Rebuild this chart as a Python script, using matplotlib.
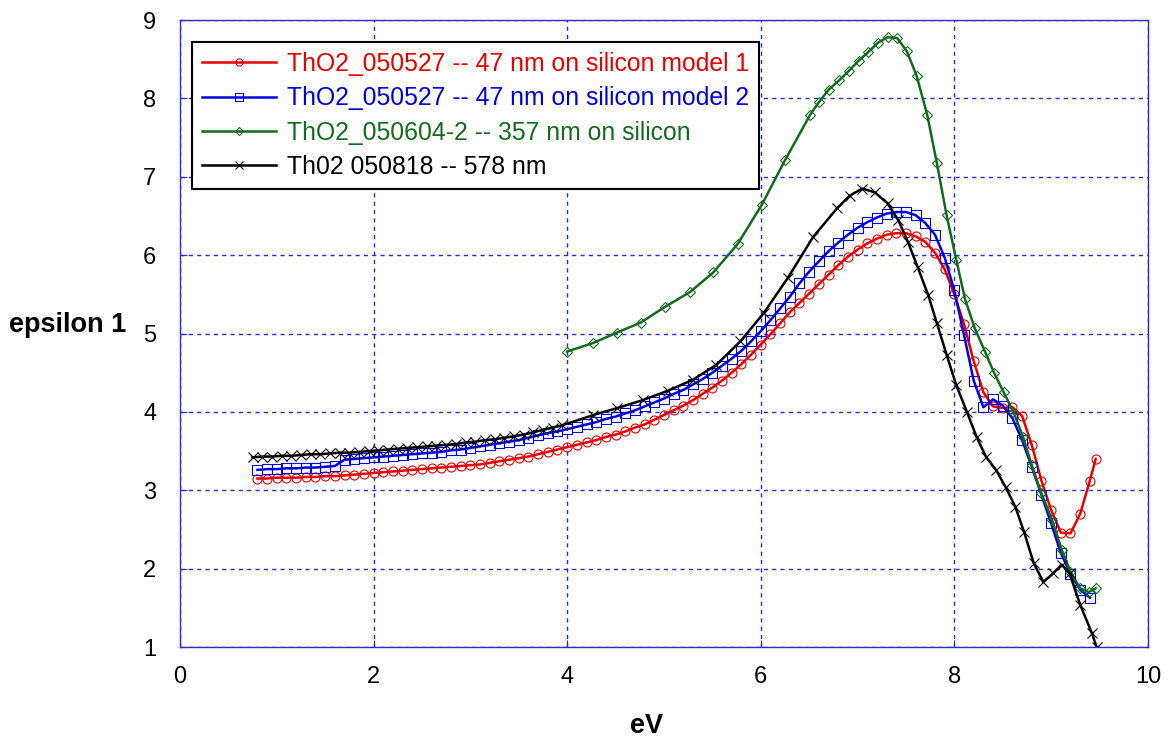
import numpy as np
import matplotlib
matplotlib.use("Agg")
import matplotlib.pyplot as plt

plt.rcParams['font.family'] = ['Liberation Sans', 'DejaVu Sans']

# --- data ---
red_x = [0.8, 0.9, 1.0, 1.1, 1.2, 1.3, 1.4, 1.5, 1.6, 1.7, 1.8, 1.9, 2.0, 2.1, 2.2,
         2.3, 2.4, 2.5, 2.6, 2.7, 2.8, 2.9, 3.0, 3.1, 3.2, 3.3, 3.4, 3.5, 3.6, 3.7,
         3.8, 3.9, 4.0, 4.1, 4.2, 4.3, 4.4, 4.5, 4.6, 4.7, 4.8, 4.9, 5.0, 5.1, 5.2,
         5.3, 5.4, 5.5, 5.6, 5.7, 5.8, 5.9, 6.0, 6.1, 6.2, 6.3, 6.4, 6.5, 6.6, 6.7,
         6.8, 6.9, 7.0, 7.1, 7.2, 7.3, 7.4, 7.5, 7.6, 7.7, 7.8, 7.9, 8.0, 8.1, 8.2,
         8.3, 8.4, 8.5, 8.6, 8.7, 8.8, 8.9, 9.0, 9.1, 9.2, 9.3, 9.4, 9.46]
red_y = [3.15, 3.15, 3.16, 3.16, 3.16, 3.17, 3.17, 3.18, 3.18, 3.19, 3.20, 3.21, 3.22, 3.23, 3.24,
         3.25, 3.26, 3.27, 3.28, 3.29, 3.30, 3.31, 3.32, 3.33, 3.35, 3.37, 3.39, 3.41, 3.43, 3.46,
         3.49, 3.52, 3.55, 3.58, 3.61, 3.64, 3.68, 3.71, 3.75, 3.80, 3.84, 3.90, 3.96, 4.02, 4.08,
         4.15, 4.23, 4.31, 4.40, 4.50, 4.61, 4.73, 4.86, 4.99, 5.13, 5.27, 5.39, 5.51, 5.63, 5.75,
         5.87, 5.98, 6.07, 6.15, 6.21, 6.26, 6.28, 6.28, 6.24, 6.17, 6.03, 5.82, 5.50, 5.12, 4.65,
         4.25, 4.07, 4.05, 4.06, 3.95, 3.58, 3.12, 2.75, 2.46, 2.45, 2.70, 3.12, 3.40]

blue_x = [0.8, 0.9, 1.0, 1.1, 1.2, 1.3, 1.4, 1.5, 1.6, 1.7, 1.8, 1.9, 2.0, 2.1, 2.2,
          2.3, 2.4, 2.5, 2.6, 2.7, 2.8, 2.9, 3.0, 3.1, 3.2, 3.3, 3.4, 3.5, 3.6, 3.7,
          3.8, 3.9, 4.0, 4.1, 4.2, 4.3, 4.4, 4.5, 4.6, 4.7, 4.8, 4.9, 5.0, 5.1, 5.2,
          5.3, 5.4, 5.5, 5.6, 5.7, 5.8, 5.9, 6.0, 6.1, 6.2, 6.3, 6.4, 6.5, 6.6, 6.7,
          6.8, 6.9, 7.0, 7.1, 7.2, 7.3, 7.4, 7.5, 7.6, 7.7, 7.8, 7.9, 8.0, 8.1, 8.2,
          8.3, 8.4, 8.5, 8.6, 8.7, 8.8, 8.9, 9.0, 9.1, 9.2, 9.3, 9.4]
blue_y = [3.26, 3.27, 3.27, 3.28, 3.28, 3.29, 3.29, 3.30, 3.31, 3.39, 3.40, 3.41, 3.42, 3.43, 3.44,
          3.45, 3.46, 3.47, 3.48, 3.49, 3.51, 3.52, 3.54, 3.56, 3.58, 3.60, 3.62, 3.64, 3.67, 3.70,
          3.73, 3.75, 3.78, 3.81, 3.84, 3.87, 3.91, 3.94, 3.98, 4.02, 4.07, 4.12, 4.17, 4.23, 4.28,
          4.35, 4.42, 4.50, 4.59, 4.68, 4.78, 4.90, 5.03, 5.17, 5.32, 5.47, 5.64, 5.79, 5.92, 6.05,
          6.16, 6.26, 6.35, 6.42, 6.48, 6.53, 6.55, 6.55, 6.51, 6.41, 6.26, 5.97, 5.55, 4.98, 4.40,
          4.06, 4.16, 4.08, 3.92, 3.64, 3.30, 2.94, 2.58, 2.20, 1.93, 1.73, 1.63]

green_x = [4.0, 4.27, 4.51, 4.76, 5.01, 5.27, 5.51, 5.76, 6.01, 6.25, 6.51, 6.60, 6.70, 6.81,
           6.91, 7.01, 7.11, 7.21, 7.31, 7.41, 7.51, 7.61, 7.72, 7.82, 7.92, 8.02, 8.11, 8.21,
           8.32, 8.41, 8.51, 8.61, 8.71, 8.80, 8.90, 9.01, 9.11, 9.20, 9.30, 9.39, 9.46]
green_y = [4.77, 4.88, 5.01, 5.14, 5.34, 5.53, 5.78, 6.14, 6.64, 7.21, 7.79, 7.95, 8.11, 8.23,
           8.35, 8.48, 8.59, 8.71, 8.78, 8.77, 8.60, 8.29, 7.79, 7.17, 6.51, 5.94, 5.44, 5.07,
           4.76, 4.50, 4.25, 4.00, 3.68, 3.32, 2.96, 2.62, 2.24, 1.96, 1.75, 1.70, 1.75]

black_x = [0.75, 0.85, 0.95, 1.05, 1.15, 1.25, 1.35, 1.45, 1.55, 1.65, 1.75, 1.85, 1.95, 2.05,
           2.15, 2.25, 2.35, 2.45, 2.55, 2.65, 2.75, 2.85, 2.95, 3.05, 3.15, 3.25, 3.35, 3.45,
           3.55, 3.65, 3.75, 3.85, 3.95, 4.27, 4.52, 4.78, 5.04, 5.30, 5.54, 5.79, 6.03, 6.28,
           6.54, 6.79, 6.92, 7.05, 7.18, 7.31, 7.42, 7.52, 7.62, 7.73, 7.82, 7.92, 8.02, 8.13,
           8.23, 8.33, 8.43, 8.53, 8.63, 8.72, 8.82, 8.92, 9.02, 9.11, 9.19, 9.30, 9.42, 9.47]
black_y = [3.42, 3.43, 3.43, 3.44, 3.44, 3.45, 3.46, 3.46, 3.47, 3.48, 3.48, 3.49, 3.50, 3.51,
           3.52, 3.53, 3.54, 3.55, 3.56, 3.57, 3.58, 3.59, 3.61, 3.62, 3.64, 3.65, 3.67, 3.69,
           3.71, 3.74, 3.77, 3.80, 3.83, 3.96, 4.05, 4.15, 4.27, 4.41, 4.60, 4.90, 5.26, 5.71,
           6.23, 6.60, 6.76, 6.85, 6.80, 6.66, 6.45, 6.17, 5.85, 5.49, 5.13, 4.73, 4.34, 4.00,
           3.68, 3.42, 3.26, 3.04, 2.79, 2.47, 2.07, 1.83, 1.94, 2.05, 1.94, 1.54, 1.18, 1.00]

labels = ['ThO2_050527 -- 47 nm on silicon model 1',
          'ThO2_050527 -- 47 nm on silicon model 2',
          'ThO2_050604-2 -- 357 nm on silicon',
          'Th02 050818 -- 578 nm']

RED = '#e60000'
BLUE = '#0000e0'
GREEN = '#146b1e'
GRID = '#2a2ad8'

fig = plt.figure(figsize=(11.71, 7.42), dpi=100)
ax = fig.add_axes([0.1537, 0.128, 0.8266, 0.845])

ax.plot(red_x, red_y, color=RED, lw=1.8, marker='o', ms=6.5, mfc='none', mew=0.8, label=labels[0])
ax.plot(blue_x, blue_y, color=BLUE, lw=1.8, marker='s', ms=7, mfc='none', mew=0.8, label=labels[1])
ax.plot(green_x, green_y, color=GREEN, lw=1.8, marker='D', ms=4.8, mfc='none', mew=0.8, label=labels[2])
ax.plot(black_x, black_y, color='black', lw=1.8, marker='x', ms=6.5, mew=0.8, label=labels[3])

ax.set_xlim(0, 10)
ax.set_ylim(1, 9)
ax.set_xticks([0, 2, 4, 6, 8, 10])
ax.set_yticks([1, 2, 3, 4, 5, 6, 7, 8, 9])

ax.grid(True, color=GRID, linestyle=(0, (3, 3)), lw=1.0)
for s in ax.spines.values():
    s.set_color(GRID)
    s.set_linewidth(1.0)
ax.tick_params(direction='in', length=5, color=GRID, labelsize=17)
ax.tick_params(axis='x', pad=14)
ax.tick_params(axis='y', pad=17)

ax.set_xlabel('eV', fontsize=19.5, fontweight='bold')
ax.xaxis.set_label_coords(0.482, -0.106)
ax.set_ylabel('epsilon 1', fontsize=19.5, fontweight='bold', rotation=0, ha='center', va='center')
ax.yaxis.set_label_coords(-0.116, 0.514)

leg = ax.legend(loc='upper left', bbox_to_anchor=(0.0124, 0.965), borderaxespad=0,
                fontsize=17.8, labelcolor='linecolor', fancybox=False, framealpha=1,
                edgecolor='black', handlelength=3.0, handletextpad=0.45,
                labelspacing=0.42, borderpad=0.4, markerscale=0.8)
leg.get_frame().set_linewidth(1.5)

fig.savefig('out.png', dpi=100)
